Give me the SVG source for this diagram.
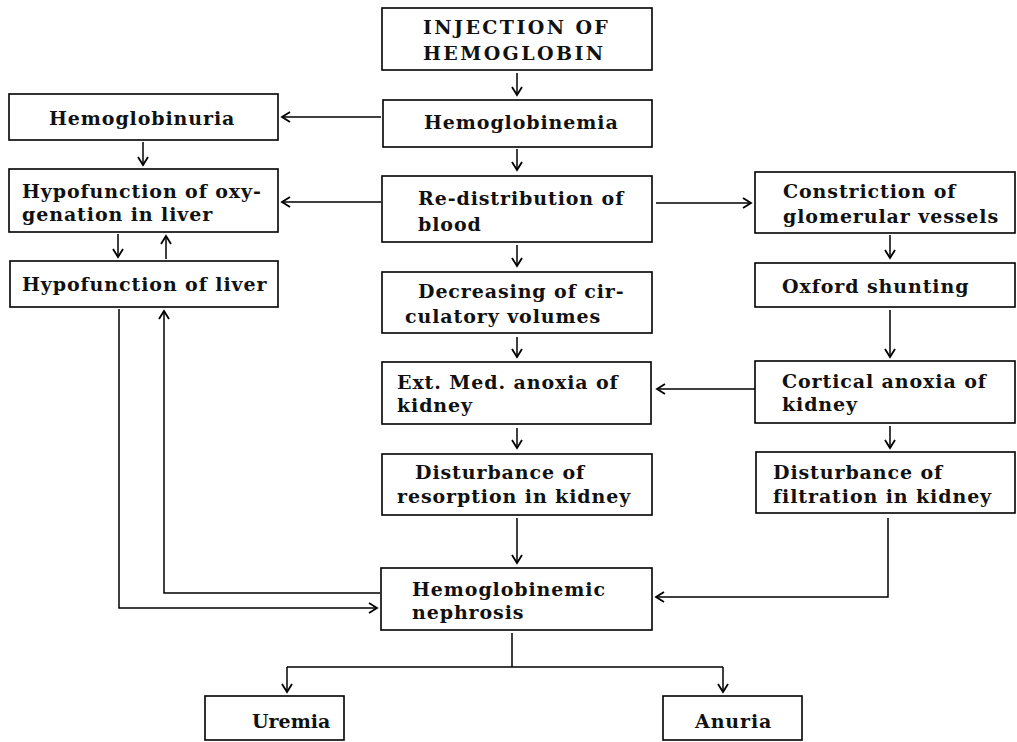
<svg xmlns="http://www.w3.org/2000/svg" width="1017" height="742" viewBox="0 0 1017 742">
<style>
.box{fill:none;stroke:#000;stroke-width:1.6}
.t{font-family:"DejaVu Serif","Liberation Serif",serif;font-weight:bold;font-size:19px;letter-spacing:0.9px;fill:#111}
.u{letter-spacing:2.4px}
.n{letter-spacing:0px}
.c{fill:none;stroke:#000;stroke-width:1.5}
</style>
<defs>
<marker id="ah" viewBox="-10 -6 12 12" refX="0" refY="0" markerWidth="12" markerHeight="12" markerUnits="userSpaceOnUse" orient="auto">
<path d="M-8,-5 L0,0 L-8,5" fill="none" stroke="#000" stroke-width="1.8"/>
</marker>
</defs>
<rect width="1017" height="742" fill="#fff"/>

<g id="injection"><rect class="box" x="382" y="8" width="270" height="62"/><text class="t u" x="423" y="34">INJECTION OF</text><text class="t u" x="423" y="60">HEMOGLOBIN</text></g>
<g id="hemoglobinemia"><rect class="box" x="383" y="100" width="269" height="47"/><text class="t" x="424" y="129" letter-spacing="0.4">Hemoglobinemia</text></g>
<g id="redistribution"><rect class="box" x="382" y="176" width="270" height="66"/><text class="t" x="418" y="205">Re-distribution of</text><text class="t" x="418" y="231">blood</text></g>
<g id="decreasing"><rect class="box" x="382" y="272" width="270" height="61"/><text class="t" x="418" y="298">Decreasing of cir-</text><text class="t" x="405" y="323">culatory volumes</text></g>
<g id="extmed"><rect class="box" x="382" y="362" width="269" height="62"/><text class="t" x="397" y="389">Ext. Med. anoxia of</text><text class="t" x="397" y="412">kidney</text></g>
<g id="resorption"><rect class="box" x="382" y="454" width="270" height="61"/><text class="t" x="415" y="479">Disturbance of</text><text class="t" x="397" y="503">resorption in kidney</text></g>
<g id="nephrosis"><rect class="box" x="381" y="568" width="271" height="62"/><text class="t" x="412" y="596">Hemoglobinemic</text><text class="t" x="412" y="619">nephrosis</text></g>

<g id="hemoglobinuria"><rect class="box" x="9" y="94" width="269" height="46"/><text class="t" x="49" y="125">Hemoglobinuria</text></g>
<g id="hypooxy"><rect class="box" x="9" y="169" width="269" height="63"/><text class="t" x="22" y="198">Hypofunction of oxy-</text><text class="t" x="22" y="221">genation in liver</text></g>
<g id="hypoliver"><rect class="box" x="10" y="261" width="268" height="46"/><text class="t" x="22" y="291">Hypofunction of liver</text></g>

<g id="constriction"><rect class="box" x="755" y="172" width="260" height="61"/><text class="t" x="783" y="198">Constriction of</text><text class="t" x="783" y="223">glomerular vessels</text></g>
<g id="oxford"><rect class="box" x="755" y="263" width="260" height="44"/><text class="t" x="782" y="293">Oxford shunting</text></g>
<g id="cortical"><rect class="box" x="755" y="361" width="260" height="62"/><text class="t" x="782" y="388">Cortical anoxia of</text><text class="t" x="782" y="411">kidney</text></g>
<g id="filtration"><rect class="box" x="756" y="452" width="259" height="61"/><text class="t" x="773" y="479">Disturbance of</text><text class="t" x="773" y="503" letter-spacing="1.3">filtration in kidney</text></g>

<g id="uremia"><rect class="box" x="205" y="696" width="139" height="44"/><text class="t n" x="252" y="728">Uremia</text></g>
<g id="anuria"><rect class="box" x="663" y="696" width="139" height="44"/><text class="t" x="695" y="728">Anuria</text></g>

<g id="connectors" class="c">
<path class="c" marker-end="url(#ah)" d="M517,73 V95"/>
<path class="c" marker-end="url(#ah)" d="M517,149 V170"/>
<path class="c" marker-end="url(#ah)" d="M517,245 V266"/>
<path class="c" marker-end="url(#ah)" d="M517,337 V357"/>
<path class="c" marker-end="url(#ah)" d="M517,428 V448"/>
<path class="c" marker-end="url(#ah)" d="M517,518 V563"/>
<path class="c" marker-end="url(#ah)" d="M381,117 H282"/>
<path class="c" marker-end="url(#ah)" d="M381,202 H282"/>
<path class="c" marker-end="url(#ah)" d="M656,203 H751"/>
<path class="c" marker-end="url(#ah)" d="M143,142 V165"/>
<path class="c" marker-end="url(#ah)" d="M118,234 V257"/>
<path class="c" marker-end="url(#ah)" d="M166,259 V236"/>
<path class="c" marker-end="url(#ah)" d="M119,309 V608 H377"/>
<path class="c" marker-end="url(#ah)" d="M380,593 H164 V311"/>
<path class="c" marker-end="url(#ah)" d="M890,235 V258"/>
<path class="c" marker-end="url(#ah)" d="M890,310 V357"/>
<path class="c" marker-end="url(#ah)" d="M755,389 H657"/>
<path class="c" marker-end="url(#ah)" d="M890,426 V448"/>
<path class="c" marker-end="url(#ah)" d="M888,518 V597 H656"/>
<path class="c" d="M512,633 V667 M287,667 H723"/>
<path class="c" marker-end="url(#ah)" d="M287,667 V692"/>
<path class="c" marker-end="url(#ah)" d="M723,667 V692"/>
</g>
</svg>
